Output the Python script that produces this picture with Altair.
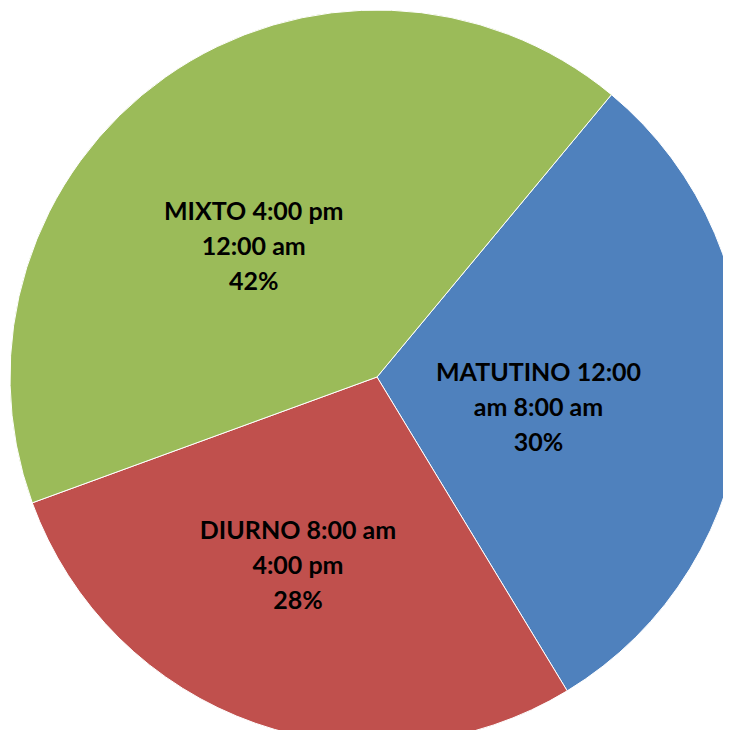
import altair as alt
import pandas as pd

categories = ["MATUTINO", "DIURNO", "MIXTO"]
labels = ["MATUTINO 12:00\nam 8:00 am\n30%", "DIURNO 8:00 am\n4:00 pm\n28%", "MIXTO 4:00 pm\n12:00 am\n42%"]
values = [30.3, 28.1, 41.6]
colors = ["#4F81BD", "#C0504D", "#9BBB59"]

df = pd.DataFrame({"cat": categories, "label": labels, "value": values, "idx": [0, 1, 2]})

start = 0.693
theta_scale = alt.Scale(range=[start, start + 2 * 3.141592653589793])

base = alt.Chart(df).encode(
    theta=alt.Theta("value:Q", stack=True, scale=theta_scale),
    order=alt.Order("idx:Q"),
)

arcs = base.mark_arc(stroke="white", strokeWidth=1).encode(
    color=alt.Color("cat:N", scale=alt.Scale(domain=categories, range=colors), legend=None),
    radius=alt.value(367),
    x=alt.value(369),
    y=alt.value(369),
)

text = base.mark_text(
    font="Lato", fontWeight="bold", fontSize=25, color="black",
    lineBreak="\n", lineHeight=35, align="center", baseline="middle", dx=-19, dy=-17,
).encode(
    text="label:N",
    radius=alt.value(181),
    x=alt.value(369),
    y=alt.value(369),
)

chart = (arcs + text).properties(
    width=715, height=722, padding=0, autosize=alt.AutoSizeParams(type="none")
).configure_view(stroke=None)

chart.save("out.html", embed_options={"renderer": "svg", "actions": False})
